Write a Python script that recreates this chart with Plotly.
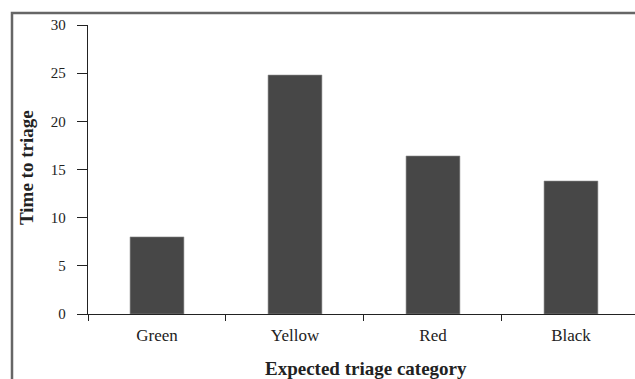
import plotly.graph_objects as go

categories = ["Green", "Yellow", "Red", "Black"]
values = [8.0, 24.8, 16.4, 13.8]
y_ticks = [0, 5, 10, 15, 20, 25, 30]

font_family = "Liberation Serif, Times New Roman, serif"

L, T, W, H = 88, 25, 547, 289  # plot area in pixels

fig = go.Figure()
fig.add_trace(go.Bar(
    x=categories, y=values, width=0.39,
    marker=dict(color="#474747", line=dict(color="#8a8a8a", width=0.6)),
))

fig.update_layout(
    template="none",
    width=635, height=379,
    margin=dict(l=L, r=0, t=T, b=379 - T - H, pad=0),
    paper_bgcolor="white", plot_bgcolor="white",
    showlegend=False,
    font=dict(family=font_family, size=15, color="#222"),
    xaxis=dict(
        type="category", range=[-0.5, 3.464], automargin=False,
        showline=True, linecolor="#222", linewidth=1.3,
        ticks="outside", ticklen=6, tickcolor="#222", tickwidth=1.3,
        tickson="boundaries", showgrid=False, zeroline=False,
        ticklabelstandoff=5,
        tickfont=dict(family=font_family, size=17, color="#222"),
    ),
    yaxis=dict(
        range=[0, 30], tickvals=y_ticks, automargin=False,
        showline=True, linecolor="#222", linewidth=1.3,
        ticks="outside", ticklen=10, tickcolor="#222", tickwidth=1.3,
        showgrid=False, zeroline=False,
        ticklabelstandoff=8,
        tickfont=dict(family=font_family, size=15, color="#222"),
    ),
    shapes=[dict(
        type="rect", xref="paper", yref="paper",
        x0=(12 - L) / W, x1=1.2, y0=-0.5, y1=1 + (T - 13) / H,
        line=dict(color="#666", width=2.5), fillcolor="rgba(0,0,0,0)",
        layer="below",
    )],
    annotations=[
        dict(text="<b>Time to triage</b>", xref="paper", yref="paper",
             x=(26 - L) / W, y=(314 - 168) / H, textangle=-90, showarrow=False,
             xanchor="center", yanchor="middle",
             font=dict(family=font_family, size=19, color="#222")),
        dict(text="<b>Expected triage category</b>", xref="paper", yref="paper",
             x=(366 - L) / W, y=(314 - 368) / H, showarrow=False,
             xanchor="center", yanchor="middle",
             font=dict(family=font_family, size=19, color="#222")),
    ],
)

fig.write_html(
    "out.html",
    config={"displayModeBar": False},
    post_script="document.body.style.margin='0';document.body.style.overflow='hidden';",
)
